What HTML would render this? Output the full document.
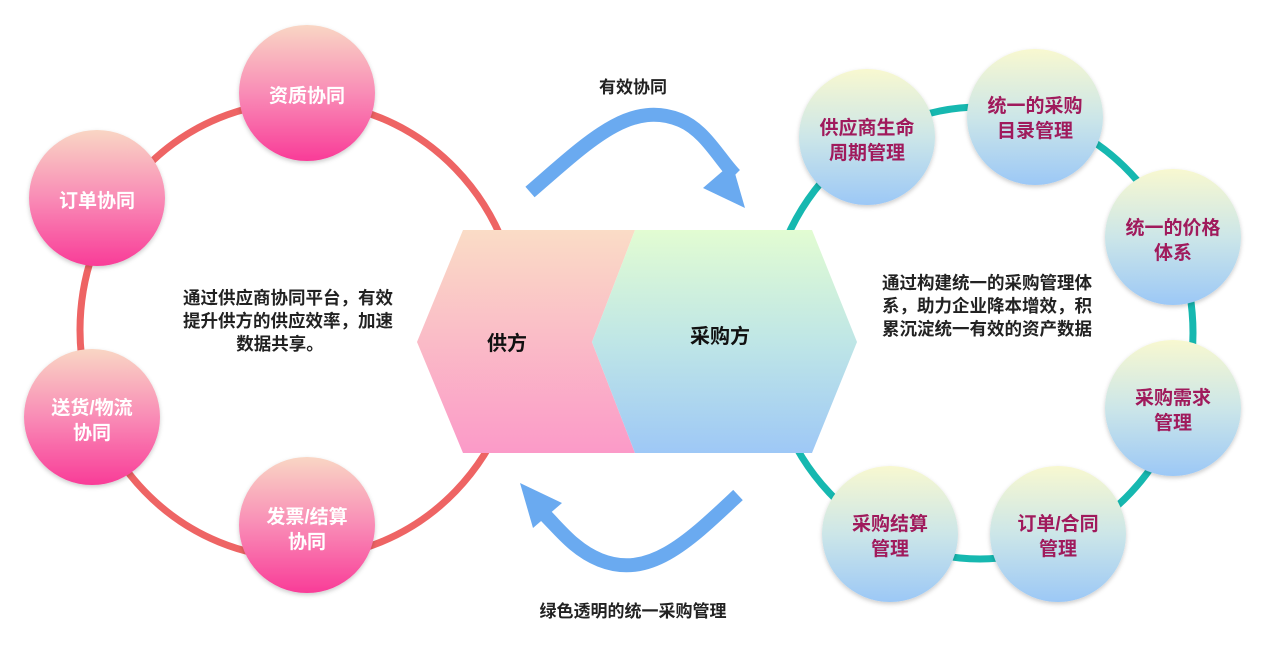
<!DOCTYPE html>
<html><head><meta charset="utf-8"><style>
body{margin:0;background:#fff;}
svg{display:block;}
text{font-family:"Liberation Sans","Noto Sans CJK SC",sans-serif;font-weight:bold;}
</style></head><body>
<svg width="1268" height="662" viewBox="0 0 1268 662" xmlns="http://www.w3.org/2000/svg">
<defs>
<linearGradient id="pk" x1="0" y1="0" x2="0" y2="1"><stop offset="0" stop-color="#f9d6c4"/><stop offset="0.5" stop-color="#f98cb6"/><stop offset="1" stop-color="#f93c98"/></linearGradient>
<linearGradient id="bl" x1="0" y1="0" x2="0" y2="1"><stop offset="0" stop-color="#f8f8d0"/><stop offset="0.5" stop-color="#cce6e8"/><stop offset="1" stop-color="#9cc8f6"/></linearGradient>
<linearGradient id="hp" x1="0" y1="0" x2="0" y2="1"><stop offset="0" stop-color="#fadcc6"/><stop offset="1" stop-color="#fb9ac8"/></linearGradient>
<linearGradient id="hg" x1="0" y1="0" x2="0" y2="1"><stop offset="0" stop-color="#e2fcd2"/><stop offset="0.5" stop-color="#bfe6e6"/><stop offset="1" stop-color="#9ec8f6"/></linearGradient>
<filter id="sh" x="-20%" y="-20%" width="140%" height="140%"><feDropShadow dx="0" dy="2" stdDeviation="2" flood-opacity="0.2"/></filter>
</defs>
<ellipse cx="300" cy="330" rx="220" ry="228" fill="none" stroke="#ee6464" stroke-width="7"/>
<ellipse cx="980" cy="333" rx="213" ry="226" fill="none" stroke="#16b8b0" stroke-width="7"/>
<path d="M530 192 C590 140 630 100 680 120 C705 130 720 160 735 175" fill="none" stroke="#6aaaf0" stroke-width="14"/>
<polygon points="745,208 703,188 732,163" fill="#6aaaf0"/>
<path d="M738 495 C690 540 650 580 600 560 C575 550 560 530 545 515" fill="none" stroke="#6aaaf0" stroke-width="14"/>
<polygon points="520,483 562,503 533,528" fill="#6aaaf0"/>
<text x="633" y="93" font-size="17" text-anchor="middle" fill="#222">有效协同</text>
<text x="633" y="617" font-size="17" text-anchor="middle" fill="#222">绿色透明的统一采购管理</text>
<polygon points="463,230 635,230 592,342 635,453 463,453 417,342" fill="url(#hp)"/>
<polygon points="635,230 812,230 857,342 812,453 635,453 592,342" fill="url(#hg)"/>
<text x="507" y="350" font-size="20" text-anchor="middle" fill="#111">供方</text>
<text x="720" y="343" font-size="20" text-anchor="middle" fill="#111">采购方</text>
<g font-size="17.5" fill="#222" text-anchor="middle">
<text x="288" y="304">通过供应商协同平台，有效</text>
<text x="288" y="327">提升供方的供应效率，加速</text>
<text x="280" y="350">数据共享。</text>
<text x="987" y="289">通过构建统一的采购管理体</text>
<text x="987" y="312">系，助力企业降本增效，积</text>
<text x="987" y="335">累沉淀统一有效的资产数据</text>
</g>
<g filter="url(#sh)" fill="url(#pk)">
<ellipse cx="307" cy="93" rx="68" ry="68"/>
<ellipse cx="97" cy="198" rx="68" ry="68"/>
<ellipse cx="92" cy="417" rx="68" ry="68"/>
<ellipse cx="307" cy="525" rx="68" ry="68"/>
</g>
<g font-size="19" fill="#fff" text-anchor="middle">
<text x="307" y="102">资质协同</text>
<text x="97" y="207">订单协同</text>
<text x="92" y="414">送货/物流</text>
<text x="92" y="439">协同</text>
<text x="307" y="523">发票/结算</text>
<text x="307" y="548">协同</text>
</g>
<g filter="url(#sh)" fill="url(#bl)">
<ellipse cx="867" cy="137" rx="68" ry="68"/>
<ellipse cx="1035" cy="117" rx="68" ry="68"/>
<ellipse cx="1173" cy="237" rx="68" ry="68"/>
<ellipse cx="1173" cy="408" rx="68" ry="68"/>
<ellipse cx="1058" cy="534" rx="68" ry="68"/>
<ellipse cx="890" cy="534" rx="68" ry="68"/>
</g>
<g font-size="19" fill="#a01a5c" text-anchor="middle">
<text x="867" y="134">供应商生命</text><text x="867" y="159">周期管理</text>
<text x="1035" y="112">统一的采购</text><text x="1035" y="137">目录管理</text>
<text x="1173" y="234">统一的价格</text><text x="1173" y="259">体系</text>
<text x="1173" y="404">采购需求</text><text x="1173" y="429">管理</text>
<text x="1058" y="530">订单/合同</text><text x="1058" y="555">管理</text>
<text x="890" y="530">采购结算</text><text x="890" y="555">管理</text>
</g>
</svg>
</body></html>
